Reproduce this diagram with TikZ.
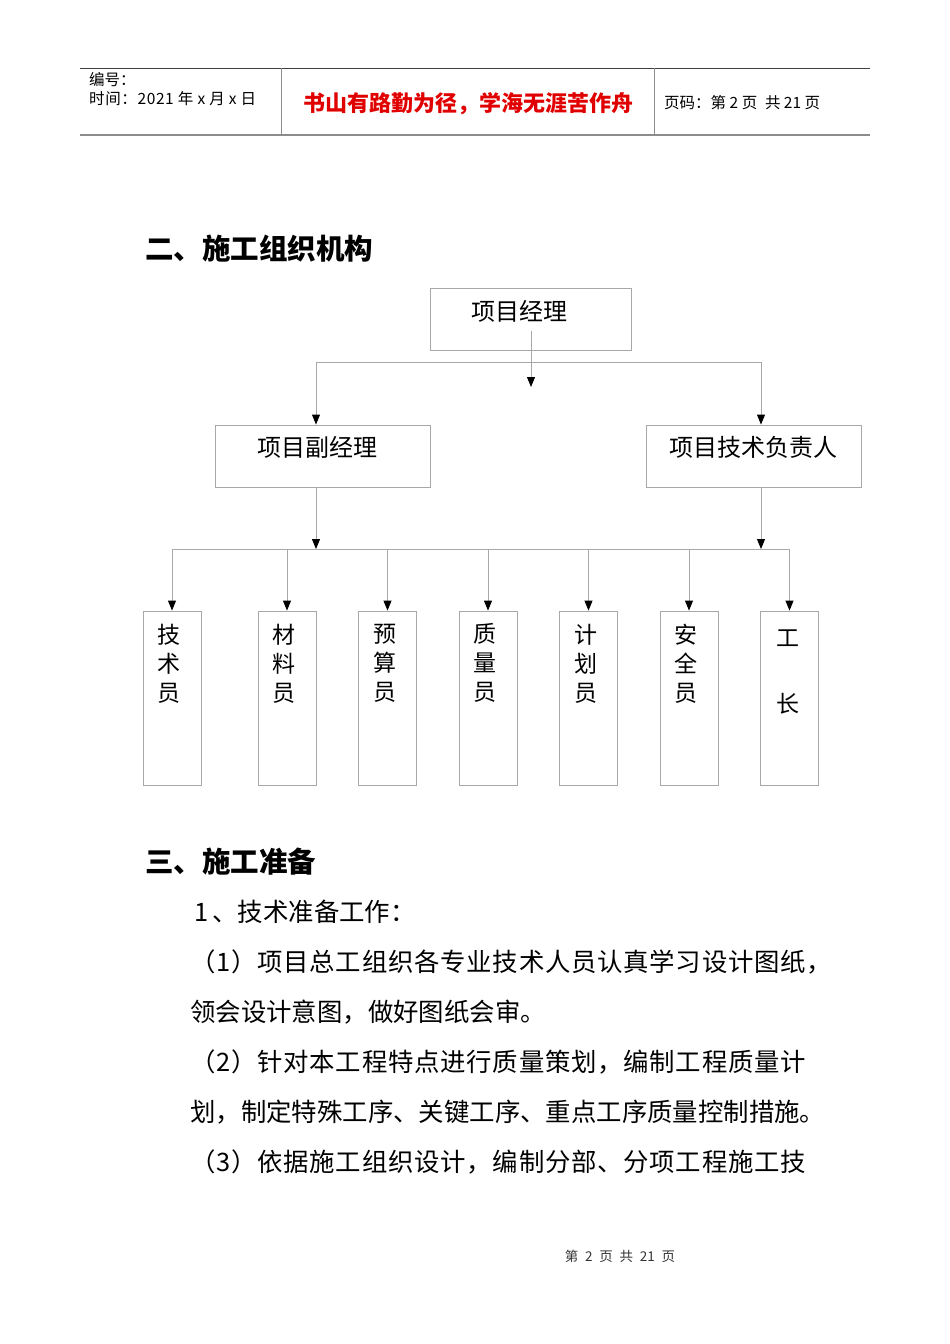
\documentclass[tikz,border=0pt]{standalone}
\usepackage{fontspec}
\setmainfont{Noto Sans CJK SC}
\usetikzlibrary{arrows.meta,positioning}
\definecolor{linegray}{HTML}{A8A8A8}
\definecolor{rulegray}{HTML}{8C8C8C}
\definecolor{mottored}{HTML}{E10000}

\begin{document}
\begin{tikzpicture}[x=1pt, y=-1pt,
    box/.style={draw=linegray, line width=0.9pt, inner sep=0pt},
    line/.style={draw=linegray, line width=0.9pt},
    arr/.style={line, -{Triangle[width=8pt,length=10pt,color=black]}},
    txt/.style={inner sep=0pt, anchor=west},
    body/.style={txt, font=\fontsize{25.4}{30}\selectfont},
    wide/.style={body, font=\fontsize{25.4}{30}\selectfont\addfontfeatures{LetterSpace=3}},
    ctext/.style={inner sep=0pt, font=\fontsize{24}{28}\selectfont},
    vtext/.style={inner sep=0pt, anchor=north, align=center, yshift=-13pt, xshift=-3pt, font=\fontsize{23}{29}\selectfont}]

    \useasboundingbox (0,0) rectangle (950,1344);

    % Page header
    \draw[black!75, line width=1pt] (80,68) -- (870,68);
    \draw[rulegray, line width=2pt] (80,135) -- (870,135);
    \draw[rulegray, line width=1pt] (281,68) -- (281,135);
    \draw[rulegray, line width=1pt] (654,68) -- (654,135);
    \node[txt, font=\fontsize{15.5}{18}\selectfont] (hno) at (89,80) {编号：};
    \node[txt, font=\fontsize{15.5}{18}\selectfont\addfontfeatures{LetterSpace=4}] (htime) at (89,99) {时间：2021 年 x 月 x 日};
    \node[inner sep=0pt, text=mottored, font=\bfseries\fontsize{22}{26}\selectfont] (motto) at (468,104) {书山有路勤为径，学海无涯苦作舟};
    \node[txt, font=\fontsize{15.5}{18}\selectfont] (hpage) at (664,103) {页码：第 2 页\enspace 共 21 页};

    % Section two
    \node[txt, font=\bfseries\fontsize{28.5}{32}\selectfont] (sec2) at (145,249) {二、施工组织机构};

    % Managers
    \node[box, minimum width=201pt, minimum height=62pt,
          label={[ctext, xshift=-11.5pt, yshift=8pt]center:项目经理}] (pm) at (530.5,319) {};
    \node[box, minimum width=215pt, minimum height=62pt,
          label={[ctext, xshift=-5.5pt, yshift=9pt]center:项目副经理}] (fjl) at (322.5,456) {};
    \node[box, minimum width=215pt, minimum height=62pt,
          label={[ctext, yshift=9pt]center:项目技术负责人}] (jsfz) at (753.5,456) {};

    % Staff
    \node[box, minimum width=58pt, minimum height=174pt, label={[vtext]north:技\\术\\员}] (jsy) at (172,698) {};
    \node[box, minimum width=58pt, minimum height=174pt, label={[vtext]north:材\\料\\员}] (cly) at (287,698) {};
    \node[box, minimum width=58pt, minimum height=174pt, label={[vtext]north:预\\算\\员}] (ysy) at (387.5,698) {};
    \node[box, minimum width=58pt, minimum height=174pt, label={[vtext]north:质\\量\\员}] (zly) at (488,698) {};
    \node[box, minimum width=58pt, minimum height=174pt, label={[vtext]north:计\\划\\员}] (jhy) at (588.5,698) {};
    \node[box, minimum width=58pt, minimum height=174pt, label={[vtext]north:安\\全\\员}] (aqy) at (689,698) {};
    \node[box, minimum width=58pt, minimum height=174pt, label={[vtext, xshift=1pt, yshift=-6pt]north:工\\[37pt]长}] (gz) at (789.5,698) {};

    % Connectors
    \coordinate (pmtap) at (531,331);
    \coordinate (pmhead) at (531,387);
    \coordinate (busL) at (316,362);
    \coordinate (busR) at (761,362);
    \coordinate (bus2L) at (172,549);
    \coordinate (bus2R) at (790,549);
    \draw[arr] (pmtap) -- (pmhead);
    \draw[line] (busL) -- (busR);
    \draw[arr] (busL) -- (busL |- fjl.north);
    \draw[arr] (busR) -- (busR |- jsfz.north);
    \draw[arr] (busL |- fjl.south) -- (busL |- bus2L);
    \draw[arr] (busR |- jsfz.south) -- (busR |- bus2L);
    \draw[line] (bus2L) -- (bus2R);
    \foreach \n in {jsy,cly,ysy,zly,jhy,aqy,gz}
        \draw[arr] (\n.north |- bus2L) -- (\n.north);

    % Section three
    \node[txt, font=\bfseries\fontsize{28.5}{32}\selectfont] (sec3) at (145,862) {三、施工准备};
    \node[body] (p1) at (194,912) {1\,、技术准备工作：};
    \node[wide] (p2) at (190,962) {（1）项目总工组织各专业技术人员认真学习设计图纸，};
    \node[body] (p3) at (190,1012) {领会设计意图，做好图纸会审。};
    \node[wide] (p4) at (190,1062) {（2）针对本工程特点进行质量策划，编制工程质量计};
    \node[body] (p5) at (190,1112) {划，制定特殊工序、关键工序、重点工序质量控制措施。};
    \node[wide] (p6) at (190,1162) {（3）依据施工组织设计，编制分部、分项工程施工技};

    % Footer
    \node[inner sep=0pt, text=black!80, font=\fontsize{13.5}{16}\selectfont] (foot) at (620,1256) {第\enspace 2\enspace 页\enspace 共\enspace 21\enspace 页};
\end{tikzpicture}
\end{document}
